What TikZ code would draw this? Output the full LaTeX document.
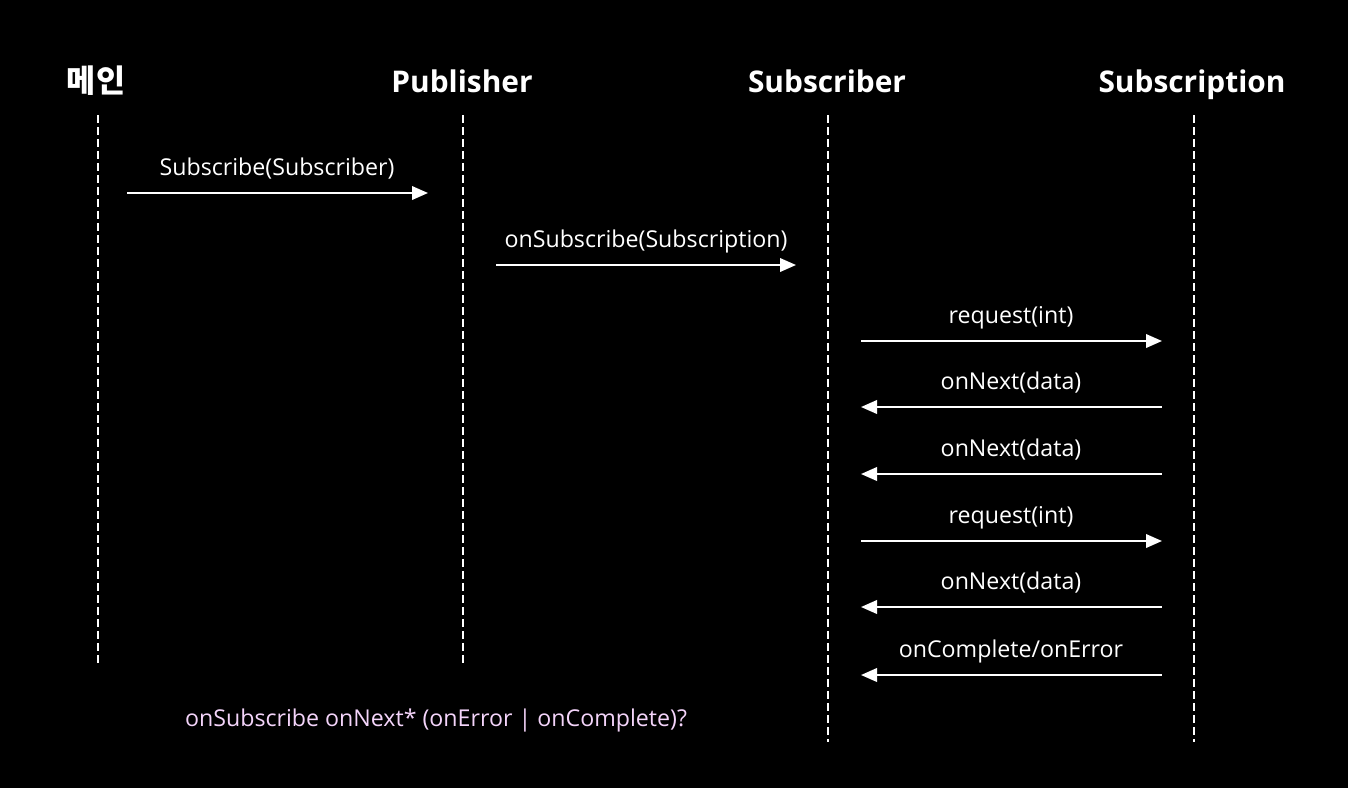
\documentclass[tikz,border=0pt]{standalone}
\usepackage{fontspec}
\setmainfont{Open Sans}
\newfontfamily\krfont{Noto Sans CJK KR}
\usetikzlibrary{arrows.meta}
\definecolor{grammar}{RGB}{244,212,250}
\tikzset{
seq/.style={
    x=0.02cm,
    y=-0.02cm,
    >={Triangle[length=0.32cm,width=0.27cm]}
},
actor/.style={
    font=\fontsize{17}{20}\selectfont\bfseries,
    text=white,
    anchor=base
},
lifeline/.style={
    white,
    line width=1.1pt,
    dash pattern=on 0.16cm off 0.08cm
},
msg/.style={
    font=\fontsize{13.2}{16}\selectfont,
    text=white,
    anchor=base
},
call/.style={
    ->,
    white,
    line width=1.2pt
}}

\begin{document}
\begin{tikzpicture}[seq]
\fill[black] (0,0) rectangle (1348,788);
\useasboundingbox (0,0) rectangle (1348,788);

% actors
\node[actor]    (main)    at (96,92)    {\krfont\fontsize{18}{20}\selectfont 메인};
\node[actor]    (pub)     at (462,92)   {Publisher};
\node[actor]    (sub)     at (827,92)   {Subscriber};
\node[actor]    (subn)    at (1192,92)  {Subscription};

% lifelines
\coordinate (mainT) at (98,115);   \coordinate (mainB) at (98,665);
\coordinate (pubT)  at (463,115);  \coordinate (pubB)  at (463,665);
\coordinate (subT)  at (828,115);  \coordinate (subB)  at (828,742);
\coordinate (subnT) at (1194,115); \coordinate (subnB) at (1194,742);
\draw[lifeline] (mainT) -- (mainB);
\draw[lifeline] (pubT) -- (pubB);
\draw[lifeline] (subT) -- (subB);
\draw[lifeline] (subnT) -- (subnB);

% messages
\coordinate (m1a) at (127,193); \coordinate (m1b) at (428,193);
\coordinate (m2a) at (496,265); \coordinate (m2b) at (796,265);
\node[msg] (l1) at (277,175) {Subscribe(Subscriber)};
\node[msg] (l2) at (646,247) {onSubscribe(Subscription)};
\draw[call] (m1a) -- (m1b);
\draw[call] (m2a) -- (m2b);

\foreach \y/\txt/\dir in {341/request(int)/->, 407/onNext(data)/<-, 474/onNext(data)/<-,
                          541/request(int)/->, 607/onNext(data)/<-, 675/onComplete\slash onError/<-}{
    \coordinate (r\y) at (861,\y);
    \coordinate (s\y) at (1162,\y);
    \node[msg] (t\y) at (1011,\y-18) {\txt};
    \draw[call, \dir] (r\y) -- (s\y);
}

\node[msg, text=grammar] (rule) at (436,726) {onSubscribe onNext* (onError | onComplete)?};
\end{tikzpicture}
\end{document}
